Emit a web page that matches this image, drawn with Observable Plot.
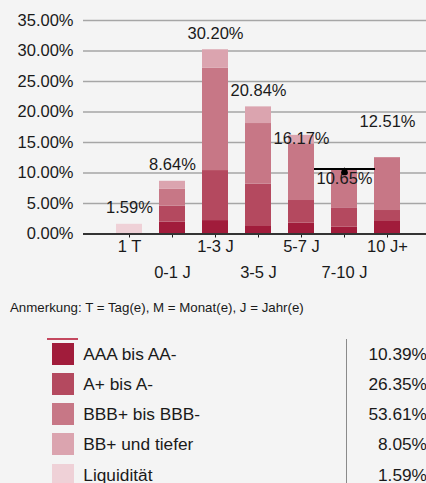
<!DOCTYPE html>
<html>
<head>
<meta charset="utf-8">
<script src="https://cdn.jsdelivr.net/npm/d3@7"></script>
<script src="https://cdn.jsdelivr.net/npm/@observablehq/plot@0.6"></script>
<style>
  html, body { margin: 0; padding: 0; background: #f4f4f4; }
  body { width: 426px; height: 483px; overflow: hidden; position: relative;
         font-family: "Liberation Sans", Arial, sans-serif; color: #1a1a1a; }
  #chart { position: absolute; left: 0; top: 0; }
  .note { position: absolute; left: 10px; top: 301.4px; font-size: 13.3px; line-height: 1; white-space: nowrap; }
  .legend { position: absolute; left: 0; top: 338px; width: 426px; }
  .legend .accent { position: absolute; left: 46.7px; top: 0; width: 31px; height: 1.5px; background: #c4485f; }
  .legend .sep { position: absolute; left: 346.2px; top: 1px; width: 1px; height: 160px; background: #8a8a8a; }
  .legend .row { position: absolute; left: 0; height: 22px; width: 426px; }
  .legend .sw { position: absolute; left: 51.7px; top: 0; width: 22.5px; height: 22px; }
  .legend .lab { position: absolute; left: 83.3px; top: 0; font-size: 17.3px; line-height: 22px; white-space: nowrap; }
  .legend .val { position: absolute; right: -1px; top: 0; font-size: 17.3px; line-height: 22px; white-space: nowrap; text-align: right; }
</style>
</head>
<body>
<div id="chart"></div>
<div class="note" id="note"></div>
<div class="legend" id="legend"><div class="accent"></div><div class="sep"></div></div>
<script>
const categories = ["1 T", "0-1 J", "1-3 J", "3-5 J", "5-7 J", "7-10 J", "10 J+"];
const ratings = ["AAA bis AA-", "A+ bis A-", "BBB+ bis BBB-", "BB+ und tiefer", "Liquidität"];
const aaa       = [0,    1.95, 2.20,  1.23, 1.77, 1.11, 2.05];
const aPlus     = [0,    2.62, 8.20,  6.93, 3.72, 3.18, 1.80];
const bbb       = [0,    2.75, 16.77, 9.95, 9.30, 6.36, 8.66];
const bb        = [0,    1.32, 3.03,  2.73, 1.38, 0,    0];
const liquidity = [1.59, 0,    0,     0,    0,    0,    0];
const totals    = [1.59, 8.64, 30.20, 20.84, 16.17, 10.65, 12.51];
const legendShares = [10.39, 26.35, 53.61, 8.05, 1.59];
const yTicks = [0, 5, 10, 15, 20, 25, 30, 35];
const noteText = "Anmerkung: T = Tag(e), M = Monat(e), J = Jahr(e)";
const markedCategory = "7-10 J";

// styles
const colors = ["#a11c3b", "#b4495f", "#c77786", "#dba4af", "#efd1d7"];
const labelDy = [-11, -11, -11, -11, 9, 15, -31];
const font = "'Liberation Sans', Arial, sans-serif";

const series = [aaa, aPlus, bbb, bb, liquidity];
const rows = [];
categories.forEach((c, i) => {
  ratings.forEach((r, k) => rows.push({category: c, rating: r, value: series[k][i]}));
});
const totalRows = categories.map((c, i) => ({category: c, total: totals[i]}));
const marked = totalRows.filter(d => d.category === markedCategory);
const pct = d => d.toFixed(2) + "%";

const plot = Plot.plot({
  width: 426,
  height: 290,
  marginLeft: 83,
  marginRight: 0,
  marginTop: 20,
  marginBottom: 56.5,
  style: {background: "transparent", fontFamily: font, fontSize: "16.5px", color: "#1a1a1a"},
  x: {type: "band", domain: categories, range: [97, 419.6], padding: 0.4, label: null,
      tickSize: 4, tickFormat: () => ""},
  y: {domain: [0, 35], axis: null, label: null},
  color: {domain: ratings, range: colors},
  marks: [
    Plot.ruleY(yTicks, {stroke: "#a6a6a6", strokeWidth: 1.5}),
    Plot.text(yTicks, {y: d => d, frameAnchor: "left", textAnchor: "end", lineAnchor: "middle", dx: -10,
      text: pct, fill: "#1a1a1a", fontSize: 16.5}),
    Plot.barY(rows, {x: "category", y: "value", fill: "rating"}),
    Plot.ruleY([0], {stroke: "#333", strokeWidth: 2}),
    ...totalRows.map((d, i) => Plot.text([d], {x: "category", y: "total", text: r => pct(r.total),
      lineAnchor: "bottom", dy: labelDy[i], fill: "#1a1a1a", fontSize: 16.5})),
    Plot.text(categories.filter((_, i) => i % 2 === 0), {x: d => d, frameAnchor: "bottom", lineAnchor: "middle", dy: 13,
      text: d => d, fill: "#1a1a1a", fontSize: 16.5}),
    Plot.text(categories.filter((_, i) => i % 2 === 1), {x: d => d, frameAnchor: "bottom", lineAnchor: "middle", dy: 39,
      text: d => d, fill: "#1a1a1a", fontSize: 16.5}),
    Plot.tickY(marked, {x: "category", y: "total", stroke: "#000", strokeWidth: 2,
      insetLeft: -17, insetRight: -18}),
    Plot.dot(marked, {x: "category", y: "total", symbol: "circle", r: 3.2, dy: 3.1, fill: "#000"}),
    Plot.dot(marked, {x: "category", y: "total", symbol: "triangle", r: 2.6, dy: 2.2, fill: "#000"})
  ]
});
document.getElementById("chart").appendChild(plot);

document.getElementById("note").textContent = noteText;
const legend = document.getElementById("legend");
ratings.forEach((r, k) => {
  const row = document.createElement("div");
  row.className = "row";
  row.style.top = (4.5 + k * 30.3) + "px";
  const sw = document.createElement("div");
  sw.className = "sw";
  sw.style.background = colors[k];
  const lab = document.createElement("div");
  lab.className = "lab";
  lab.textContent = r;
  const val = document.createElement("div");
  val.className = "val";
  val.textContent = pct(legendShares[k]);
  row.append(sw, lab, val);
  legend.appendChild(row);
});
</script>
</body>
</html>
